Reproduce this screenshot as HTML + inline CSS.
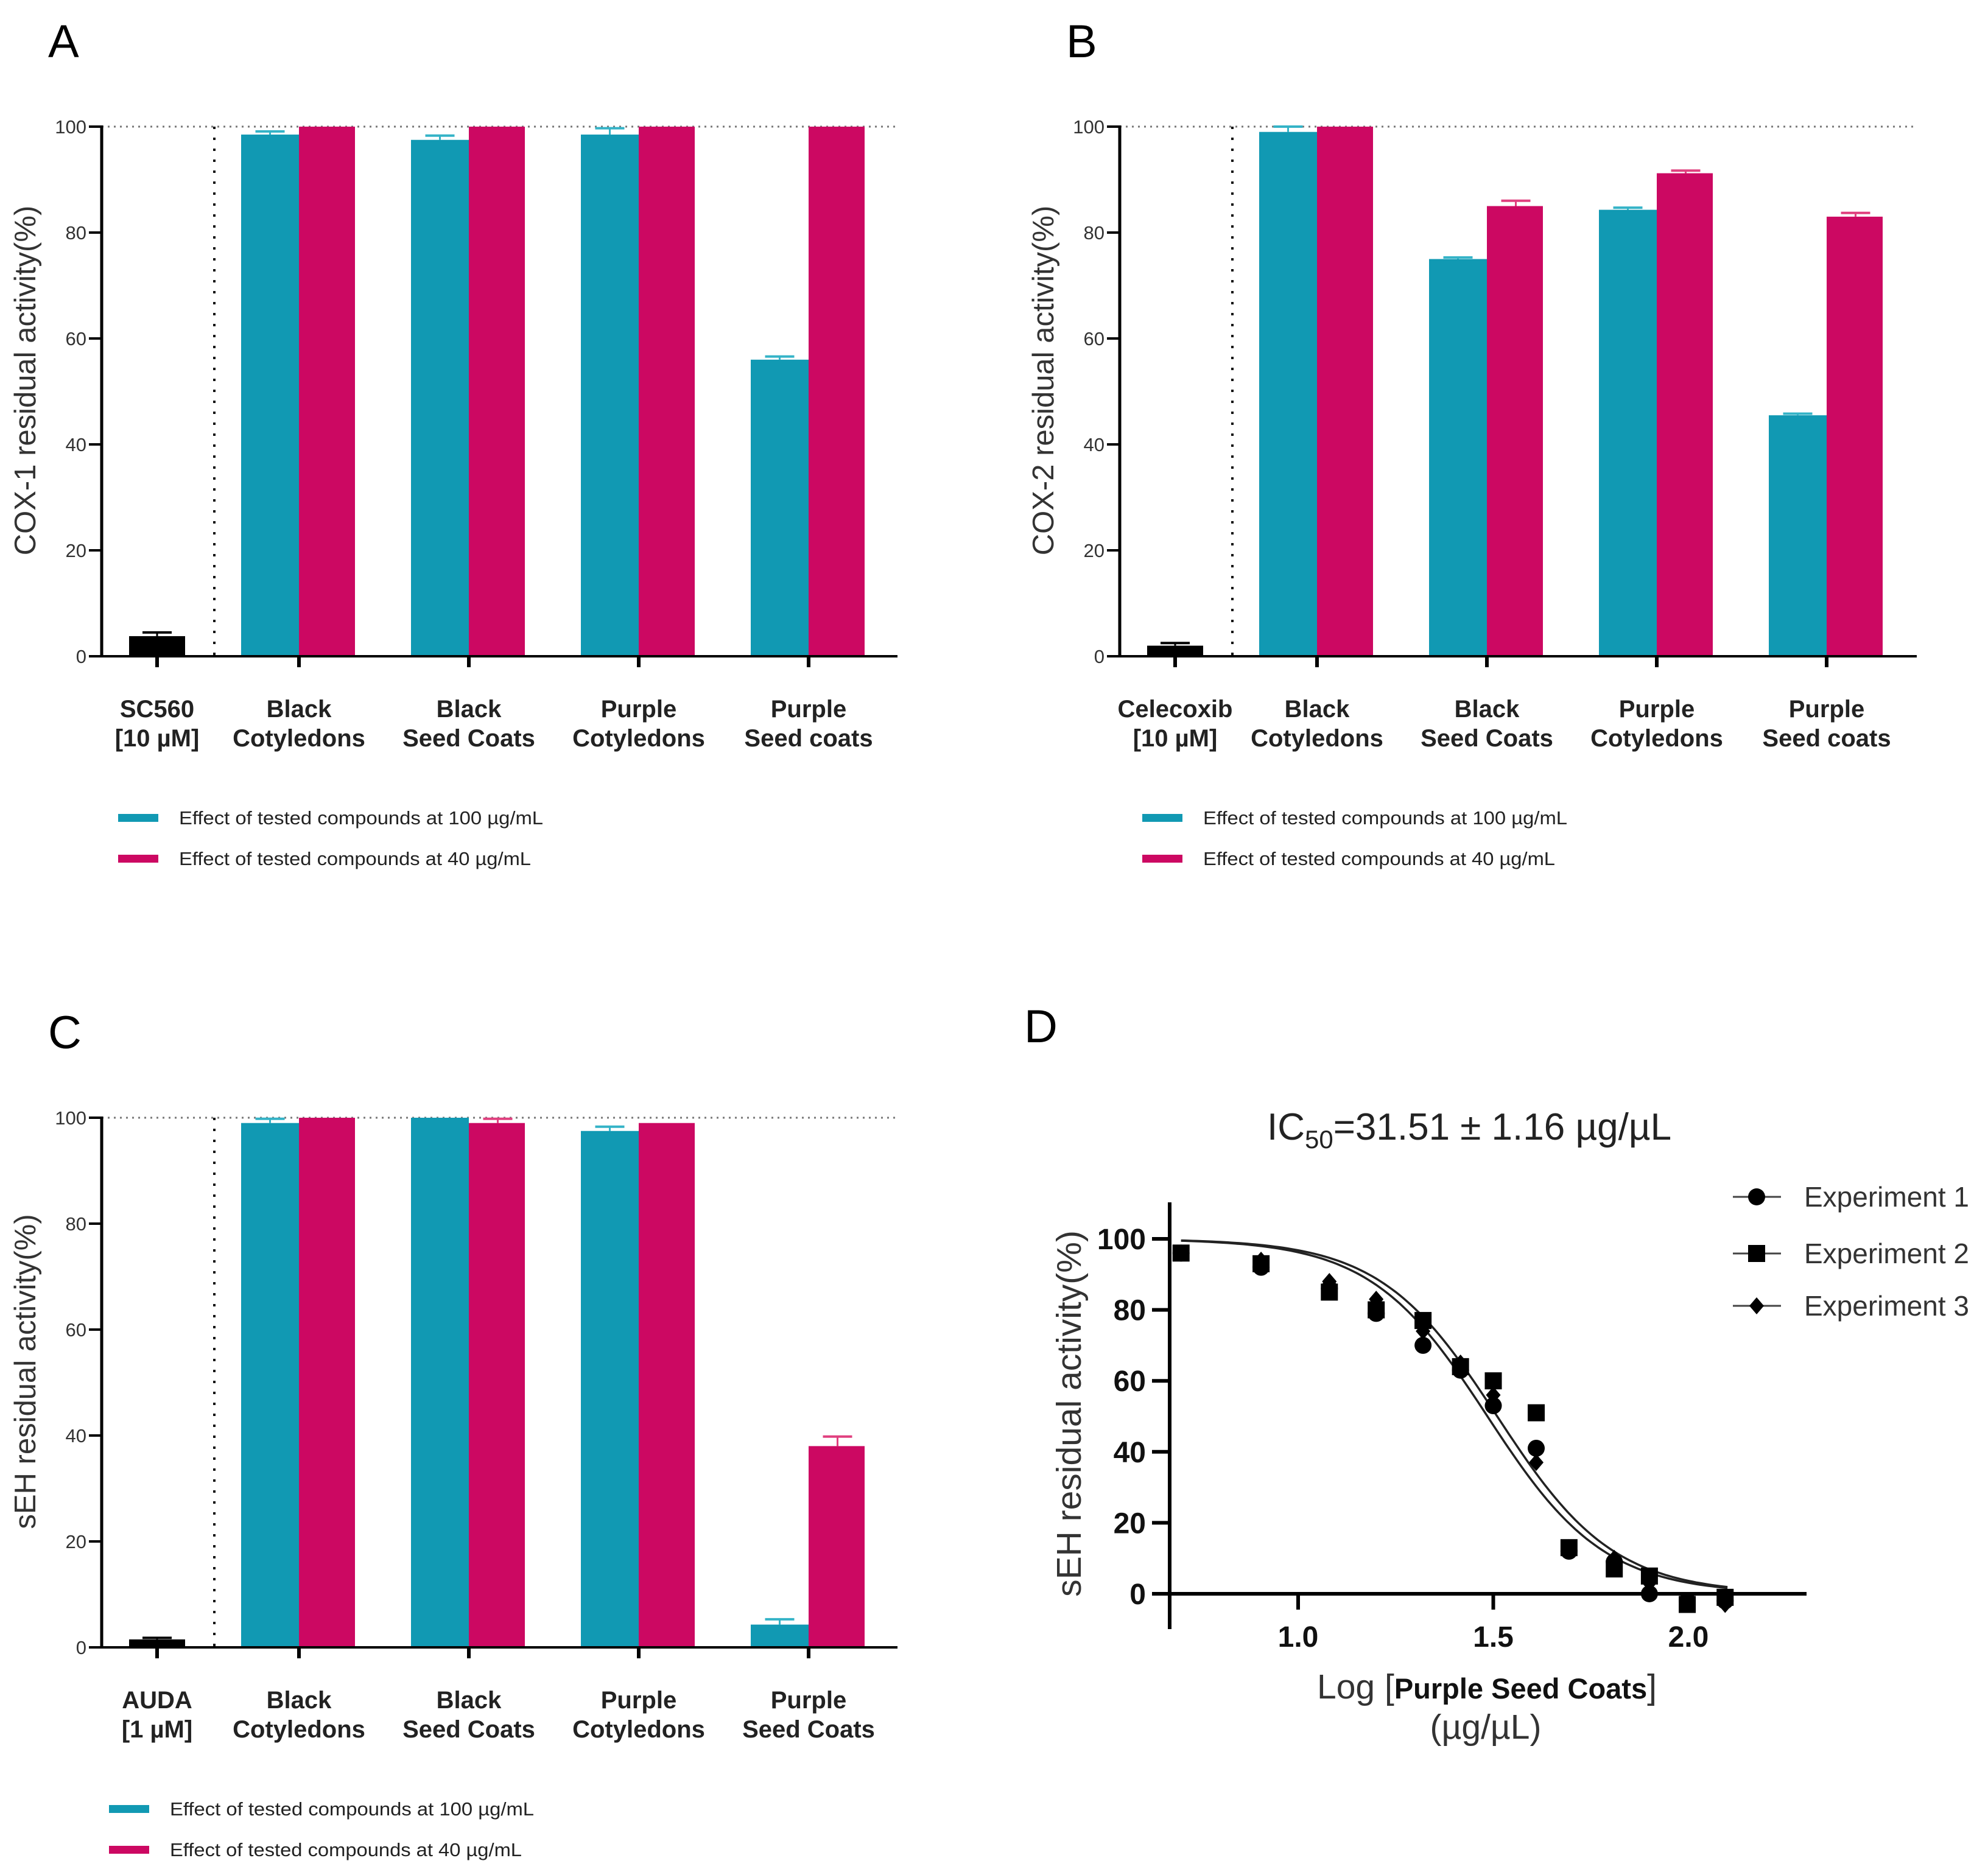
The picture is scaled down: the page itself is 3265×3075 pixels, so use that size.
<!DOCTYPE html>
<html><head><meta charset="utf-8"><style>
html,body{margin:0;padding:0;background:#fff}
svg{display:block}
text{font-family:"Liberation Sans",Arial,sans-serif}
</style></head><body>
<svg id="fig" width="3265" height="3075" viewBox="0 0 3265 3075" xmlns="http://www.w3.org/2000/svg"></svg>
<script>
// ---- Bar chart data ----
const barCategoriesA = [["SC560","[10 µM]"],["Black","Cotyledons"],["Black","Seed Coats"],["Purple","Cotyledons"],["Purple","Seed coats"]];
const barCategoriesB = [["Celecoxib","[10 µM]"],["Black","Cotyledons"],["Black","Seed Coats"],["Purple","Cotyledons"],["Purple","Seed coats"]];
const barCategoriesC = [["AUDA","[1 µM]"],["Black","Cotyledons"],["Black","Seed Coats"],["Purple","Cotyledons"],["Purple","Seed Coats"]];
const controlA = [3.8, 0.7];
const controlB = [2.0, 0.5];
const controlC = [1.5, 0.3];
const teal100A = [98.5, 97.5, 98.5, 56];
const tealErrA = [0.6, 0.8, 1.2, 0.6];
const mag40A = [100, 100, 100, 100];
const magErrA = [0, 0, 0, 0];
const teal100B = [99, 75, 84.3, 45.5];
const tealErrB = [1.0, 0.3, 0.4, 0.3];
const mag40B = [100, 85, 91.2, 83];
const magErrB = [0, 1.0, 0.5, 0.7];
const teal100C = [99, 100, 97.5, 4.3];
const tealErrC = [0.8, 0, 0.8, 1.0];
const mag40C = [100, 99, 99, 38];
const magErrC = [0, 0.8, 0, 1.8];
const barTicks = [0, 20, 40, 60, 80, 100];
// ---- Dose-response data ----
const logConc = [0.70, 0.905, 1.08, 1.20, 1.32, 1.416, 1.50, 1.61, 1.694, 1.81, 1.90, 1.997, 2.094];
const exp1 = [96, 92, 86, 79, 70, 63, 53, 41, 12, 9, 0, -2, -2];
const exp2 = [96, 93, 85, 80, 77, 64, 60, 51, 13, 7, 5, -3, -1];
const exp3 = [96, 94, 88, 83, 74, 65, 56, 37, 13, 10, 3, -2, -3];
const fitLogIC50 = [1.485, 1.51];
const fitHill = [2.9, 2.9];
const doseYTicks = [0, 20, 40, 60, 80, 100];
const doseXTicks = ["1.0", "1.5", "2.0"];

const NS = "http://www.w3.org/2000/svg";
const svg = document.getElementById("fig");
function mk(tag, attrs, parent, txt) {
  const e = document.createElementNS(NS, tag);
  for (const k in attrs) e.setAttribute(k, attrs[k]);
  if (txt !== undefined) e.textContent = txt;
  (parent || svg).appendChild(e);
  return e;
}
const TEAL = "#1199b3", TEALC = "#34b3c7", MAG = "#cc0862";

function barPanel(ox, oy, letter, cats, ctrl, tv, te, mv, me, ytitle, legX, legY, name) {
  const g = mk("g", {});
  
  
  const x0 = ox + 167, xEnd = ox + 1474 + (name === "panel-b" ? 2 : 0);
  const y = v => oy + 1078 - v * 8.7;
  const centers = [258, 491, 770, 1049, 1328].map(c => c + ox);
  const bw = 95;
  const L = mk("text", {x: ox + 79, y: oy + 94, "font-size": 76}, g, letter);
  
  
  const gl = mk("line", {x1: x0, x2: xEnd, y1: y(100), y2: y(100), stroke: "#777", "stroke-width": 3, "stroke-dasharray": "3 7"}, g);
  
  
  const sep = mk("line", {x1: ox + 352, x2: ox + 352, y1: y(100), y2: y(0), stroke: "#111", "stroke-width": 4, "stroke-dasharray": "4 14"}, g);
  
  
  const cb = mk("rect", {x: centers[0] - 46, y: y(ctrl[0]), width: 92, height: y(0) - y(ctrl[0]), fill: "#000"}, g);
  
  
  mk("line", {x1: centers[0], x2: centers[0], y1: y(ctrl[0]), y2: y(ctrl[0] + ctrl[1]), stroke: "#000", "stroke-width": 3}, g);
  mk("line", {x1: centers[0] - 24, x2: centers[0] + 24, y1: y(ctrl[0] + ctrl[1]), y2: y(ctrl[0] + ctrl[1]), stroke: "#000", "stroke-width": 4}, g);
  for (let i = 0; i < tv.length; i++) {
    const c = centers[i + 1];
    const t = mk("rect", {x: c - bw, y: y(tv[i]), width: bw, height: y(0) - y(tv[i]), fill: TEAL}, g);
    
    
    const m = mk("rect", {x: c, y: y(mv[i]), width: bw - 3, height: y(0) - y(mv[i]), fill: MAG}, g);
    
    
    if (te[i] > 0) {
      const cx = c - bw / 2;
      mk("line", {x1: cx, x2: cx, y1: y(tv[i]), y2: y(tv[i] + te[i]), stroke: TEALC, "stroke-width": 3}, g);
      mk("line", {x1: cx - 24, x2: cx + 24, y1: y(tv[i] + te[i]), y2: y(tv[i] + te[i]), stroke: TEALC, "stroke-width": 4}, g);
    }
    if (me[i] > 0) {
      const cx = c + bw / 2;
      mk("line", {x1: cx, x2: cx, y1: y(mv[i]), y2: y(mv[i] + me[i]), stroke: "#e0407f", "stroke-width": 3}, g);
      mk("line", {x1: cx - 24, x2: cx + 24, y1: y(mv[i] + me[i]), y2: y(mv[i] + me[i]), stroke: "#e0407f", "stroke-width": 4}, g);
    }
  }
  const ya = mk("line", {x1: x0, x2: x0, y1: y(100) - 2, y2: y(0) + 2, stroke: "#000", "stroke-width": 5}, g);
  
  
  const xa = mk("line", {x1: x0 - 2, x2: xEnd, y1: y(0), y2: y(0), stroke: "#000", "stroke-width": 4}, g);
  
  
  barTicks.forEach(v => {
    mk("line", {x1: x0 - 21, x2: x0, y1: y(v), y2: y(v), stroke: "#000", "stroke-width": 4}, g);
    const tl = mk("text", {x: x0 - 25, y: y(v) + 11, "font-size": 31, "text-anchor": "end", fill: "#333"}, g, String(v));
    
    
  });
  cats.forEach((c, i) => {
    mk("line", {x1: centers[i], x2: centers[i], y1: y(0), y2: y(0) + 18, stroke: "#000", "stroke-width": 6}, g);
    const t1 = mk("text", {x: centers[i], y: oy + 1178, "font-size": 40, "font-weight": "bold", "text-anchor": "middle", fill: "#222"}, g, c[0]);
    
    
    const t2 = mk("text", {x: centers[i], y: oy + 1226, "font-size": 40, "font-weight": "bold", "text-anchor": "middle", fill: "#222"}, g, c[1]);
    
    
  });
  const yt = mk("text", {x: 0, y: 0, "font-size": 49, "text-anchor": "middle", fill: "#333", transform: `translate(${ox + 58},${oy + 625}) rotate(-90)`}, g, ytitle);
  
  
  const labels = ["Effect of tested compounds at 100 µg/mL", "Effect of tested compounds at 40 µg/mL"];
  const cols = [TEAL, MAG];
  [0, 1].forEach(k => {
    const ly = legY + k * 67;
    const sw = mk("rect", {x: legX, y: ly - 6, width: 66, height: 13, fill: cols[k]}, g);
    
    
    const lt = mk("text", {x: legX + 100, y: ly + 11, "font-size": 31, fill: "#222", textLength: k ? 578 : 598, lengthAdjust: "spacingAndGlyphs"}, g, labels[k]);
    
    
  });
}
barPanel(0, 0, "A", barCategoriesA, controlA, teal100A, tealErrA, mag40A, magErrA, "COX-1 residual activity(%)", 194, 1343, "panel-a");
barPanel(1672, 0, "B", barCategoriesB, controlB, teal100B, tealErrB, mag40B, magErrB, "COX-2 residual activity(%)", 1876, 1343, "panel-b");
barPanel(0, 1628, "C", barCategoriesC, controlC, teal100C, tealErrC, mag40C, magErrC, "sEH residual activity(%)", 179, 2971, "panel-c");

// ---- Panel D ----
(function () {
  const g = mk("g", {});
  
  
  const xs = v => 2132 + (v - 1) * 641;
  const ys = v => 2618 - v * 5.83;
  const L = mk("text", {x: 1682, y: 1712, "font-size": 76}, g, "D");
  
  
  const ti = mk("text", {x: 2081, y: 1872, "font-size": 62, fill: "#222"}, g);
  
  
  mk("tspan", {}, ti, "IC");
  mk("tspan", {"font-size": 42, dy: 14}, ti, "50");
  mk("tspan", {dy: -14}, ti, "=31.51 ± 1.16 µg/µL");
  fitLogIC50.forEach((ic, k) => {
    let d = "";
    for (let v = 0.70; v <= 2.1001; v += 0.01) {
      const yv = 100 / (1 + Math.pow(10, (v - ic) * fitHill[k]));
      d += (d ? "L" : "M") + xs(v).toFixed(1) + "," + ys(yv).toFixed(1);
    }
    const p = mk("path", {d: d, fill: "none", stroke: "#222", "stroke-width": 3.5}, g);
    
    
  });
  function marker(kind, cx, cy, parent) {
    let e;
    if (kind === 0) e = mk("circle", {cx: cx, cy: cy, r: 14, fill: "#000"}, parent);
    else if (kind === 1) e = mk("rect", {x: cx - 14, y: cy - 14, width: 28, height: 28, fill: "#000"}, parent);
    else e = mk("path", {d: `M${cx},${cy - 14}L${cx + 12},${cy}L${cx},${cy + 14}L${cx - 12},${cy}Z`, fill: "#000"}, parent);
    return e;
  }
  [exp1, exp2, exp3].forEach((ser, k) => {
    ser.forEach((v, i) => {
      const m = marker(k, xs(logConc[i]), ys(v), g);
      
      
    });
  });
  const ya = mk("line", {x1: 1921, x2: 1921, y1: 1975, y2: 2676, stroke: "#000", "stroke-width": 6}, g);
  
  
  const xa = mk("line", {x1: 1893, x2: 2967, y1: ys(0), y2: ys(0), stroke: "#000", "stroke-width": 6}, g);
  
  
  doseYTicks.forEach(v => {
    mk("line", {x1: 1892, x2: 1921, y1: ys(v), y2: ys(v), stroke: "#000", "stroke-width": 6}, g);
    const t = mk("text", {x: 1882, y: ys(v) + 17, "font-size": 48, "font-weight": "bold", "text-anchor": "end", fill: "#111"}, g, String(v));
    
    
  });
  doseXTicks.forEach(s => {
    const v = parseFloat(s);
    mk("line", {x1: xs(v), x2: xs(v), y1: ys(0), y2: ys(0) + 26, stroke: "#000", "stroke-width": 6}, g);
    const t = mk("text", {x: xs(v), y: 2705, "font-size": 48, "font-weight": "bold", "text-anchor": "middle", fill: "#111"}, g, s);
    
    
  });
  const xt = mk("text", {x: 2442, y: 2790, "font-size": 57, "text-anchor": "middle", fill: "#333"}, g);
  
  
  mk("tspan", {}, xt, "Log [");
  mk("tspan", {"font-weight": "bold", "font-size": 47, fill: "#111"}, xt, "Purple Seed Coats");
  mk("tspan", {}, xt, "]");
  const xt2 = mk("text", {x: 2440, y: 2856, "font-size": 57, "text-anchor": "middle", fill: "#333"}, g, "(µg/µL)");
  
  
  const yt = mk("text", {x: 0, y: 0, "font-size": 57, "text-anchor": "middle", fill: "#333", transform: "translate(1775,2322) rotate(-90)"}, g, "sEH residual activity(%)");
  
  
  const legNames = ["Experiment 1", "Experiment 2", "Experiment 3"];
  const legY = [1966, 2059, 2145];
  legNames.forEach((n, k) => {
    mk("line", {x1: 2846, x2: 2925, y1: legY[k], y2: legY[k], stroke: "#444", "stroke-width": 3}, g);
    const m = marker(k, 2885, legY[k], g);
    
    
    const t = mk("text", {x: 2963, y: legY[k] + 16, "font-size": 46, fill: "#333"}, g, n);
    
    
  });
})();
</script>
</body></html>
